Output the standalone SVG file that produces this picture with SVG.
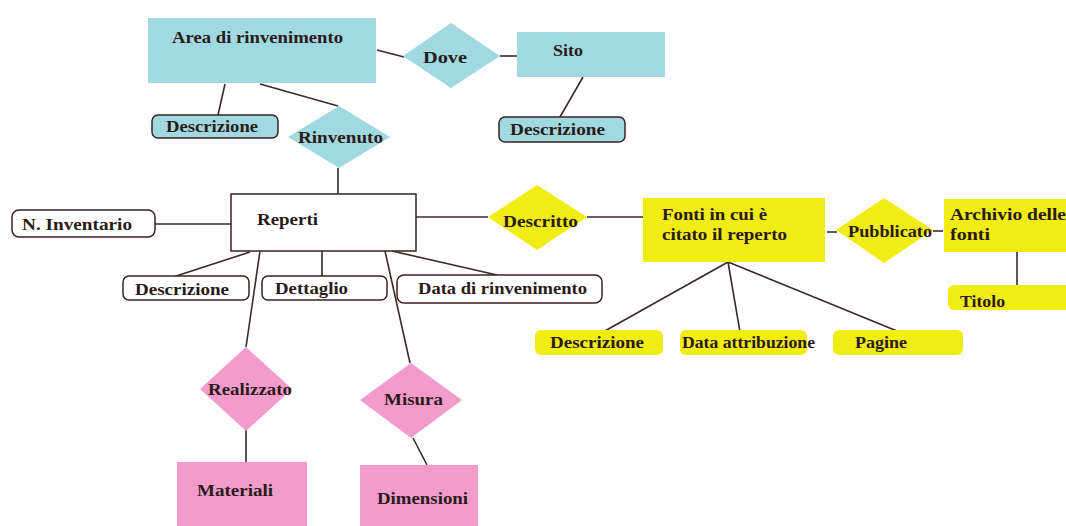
<svg xmlns="http://www.w3.org/2000/svg" width="1066" height="526" viewBox="0 0 1066 526">
<style>
.blue{fill:#a0d9e0}
.yel{fill:#f0ec14}
.pink{fill:#f39ccb}
.attr{stroke:#3a2222;stroke-width:1.5}
.wattr{fill:#fff;stroke:#3a2222;stroke-width:1.5}
.ln{stroke:#3a2a2a;stroke-width:1.6}
</style>
<rect width="1066" height="526" fill="#fff"/>
<g id="connectors" class="ln">
<line x1="377" y1="50" x2="404" y2="57"/>
<line x1="500" y1="56" x2="517" y2="56"/>
<line x1="583" y1="77" x2="560" y2="117"/>
<line x1="225" y1="84" x2="218" y2="115"/>
<line x1="260" y1="84" x2="338" y2="106"/>
<line x1="338" y1="168" x2="338" y2="194"/>
<line x1="155" y1="224" x2="231" y2="224"/>
<line x1="250" y1="252" x2="173" y2="277"/>
<line x1="322" y1="251" x2="322" y2="276"/>
<line x1="392" y1="251" x2="497" y2="275"/>
<line x1="260" y1="251" x2="246" y2="347"/>
<line x1="246" y1="430" x2="246" y2="462"/>
<line x1="385" y1="251" x2="410" y2="363"/>
<line x1="413" y1="438" x2="427" y2="465"/>
<line x1="416" y1="217" x2="488" y2="217"/>
<line x1="587" y1="217" x2="643" y2="217"/>
<line x1="827" y1="232" x2="837" y2="232"/>
<line x1="933" y1="231" x2="943" y2="231"/>
<line x1="1017" y1="252" x2="1017" y2="286"/>
<line x1="728" y1="262" x2="603" y2="332"/>
<line x1="728" y1="262" x2="740" y2="332"/>
<line x1="728" y1="262" x2="897" y2="331"/>
</g>
<g id="area"><rect class="blue" x="148" y="18" width="228" height="65"/><text font-family="Liberation Serif" font-weight="bold" font-size="17" fill="#2a1a1a" x="172" y="43" textLength="171" lengthAdjust="spacingAndGlyphs">Area di rinvenimento</text></g>
<g id="dove"><polygon class="blue" points="451,23 500,56 451,88 403,56"/><text font-family="Liberation Serif" font-weight="bold" font-size="17" fill="#2a1a1a" x="423" y="63" textLength="44" lengthAdjust="spacingAndGlyphs">Dove</text></g>
<g id="sito"><rect class="blue" x="517" y="32" width="148" height="45"/><text font-family="Liberation Serif" font-weight="bold" font-size="17" fill="#2a1a1a" x="553" y="56" textLength="30" lengthAdjust="spacingAndGlyphs">Sito</text></g>
<g id="descr-area"><rect class="blue attr" x="152" y="115" width="126" height="23" rx="6"/><text font-family="Liberation Serif" font-weight="bold" font-size="17" fill="#2a1a1a" x="166" y="132" textLength="92" lengthAdjust="spacingAndGlyphs">Descrizione</text></g>
<g id="descr-sito"><rect class="blue attr" x="499" y="117" width="126" height="25" rx="6"/><text font-family="Liberation Serif" font-weight="bold" font-size="17" fill="#2a1a1a" x="510" y="135" textLength="95" lengthAdjust="spacingAndGlyphs">Descrizione</text></g>
<g id="rinvenuto"><polygon class="blue" points="339,106 390,137 339,168 288,137"/><text font-family="Liberation Serif" font-weight="bold" font-size="17" fill="#2a1a1a" x="298" y="143" textLength="85" lengthAdjust="spacingAndGlyphs">Rinvenuto</text></g>
<g id="reperti"><rect class="wattr" x="231" y="194" width="185" height="57"/><text font-family="Liberation Serif" font-weight="bold" font-size="17" fill="#2a1a1a" x="257" y="225" textLength="61" lengthAdjust="spacingAndGlyphs">Reperti</text></g>
<g id="inventario"><rect class="wattr" x="12" y="210" width="143" height="27" rx="7"/><text font-family="Liberation Serif" font-weight="bold" font-size="17" fill="#2a1a1a" x="22" y="230" textLength="110" lengthAdjust="spacingAndGlyphs">N. Inventario</text></g>
<g id="descr-reperti"><rect class="wattr" x="123" y="276" width="126" height="24" rx="6"/><text font-family="Liberation Serif" font-weight="bold" font-size="17" fill="#2a1a1a" x="135" y="295" textLength="94" lengthAdjust="spacingAndGlyphs">Descrizione</text></g>
<g id="dettaglio"><rect class="wattr" x="262" y="276" width="125" height="24" rx="6"/><text font-family="Liberation Serif" font-weight="bold" font-size="17" fill="#2a1a1a" x="275" y="294" textLength="73" lengthAdjust="spacingAndGlyphs">Dettaglio</text></g>
<g id="data-rinv"><rect class="wattr" x="397" y="275" width="205" height="28" rx="7"/><text font-family="Liberation Serif" font-weight="bold" font-size="17" fill="#2a1a1a" x="418" y="294" textLength="169" lengthAdjust="spacingAndGlyphs">Data di rinvenimento</text></g>
<g id="realizzato"><polygon class="pink" points="246,347 292,389 246,431 200,389"/><text font-family="Liberation Serif" font-weight="bold" font-size="17" fill="#2a1a1a" x="208" y="395" textLength="84" lengthAdjust="spacingAndGlyphs">Realizzato</text></g>
<g id="materiali"><rect class="pink" x="177" y="462" width="130" height="64"/><text font-family="Liberation Serif" font-weight="bold" font-size="17" fill="#2a1a1a" x="197" y="496" textLength="76" lengthAdjust="spacingAndGlyphs">Materiali</text></g>
<g id="misura"><polygon class="pink" points="411,363 462,400 411,438 360,400"/><text font-family="Liberation Serif" font-weight="bold" font-size="17" fill="#2a1a1a" x="384" y="405" textLength="59" lengthAdjust="spacingAndGlyphs">Misura</text></g>
<g id="dimensioni"><rect class="pink" x="360" y="465" width="118" height="61"/><text font-family="Liberation Serif" font-weight="bold" font-size="17" fill="#2a1a1a" x="377" y="504" textLength="91" lengthAdjust="spacingAndGlyphs">Dimensioni</text></g>
<g id="descritto"><polygon class="yel" points="537,185 587,217 537,250 488,217"/><text font-family="Liberation Serif" font-weight="bold" font-size="17" fill="#2a1a1a" x="503" y="227" textLength="75" lengthAdjust="spacingAndGlyphs">Descritto</text></g>
<g id="fonti"><rect class="yel" x="643" y="198" width="182" height="64"/><text font-family="Liberation Serif" font-weight="bold" font-size="17" fill="#2a1a1a" x="662" y="220" textLength="105" lengthAdjust="spacingAndGlyphs">Fonti in cui è</text><text font-family="Liberation Serif" font-weight="bold" font-size="17" fill="#2a1a1a" x="662" y="240" textLength="125" lengthAdjust="spacingAndGlyphs">citato il reperto</text></g>
<g id="pubblicato"><polygon class="yel" points="884,198 933,230 884,263 836,230"/><text font-family="Liberation Serif" font-weight="bold" font-size="17" fill="#2a1a1a" x="848" y="237" textLength="84" lengthAdjust="spacingAndGlyphs">Pubblicato</text></g>
<g id="archivio"><rect class="yel" x="944" y="199" width="122" height="53"/><text font-family="Liberation Serif" font-weight="bold" font-size="17" fill="#2a1a1a" x="950" y="220" textLength="116" lengthAdjust="spacingAndGlyphs">Archivio delle</text><text font-family="Liberation Serif" font-weight="bold" font-size="17" fill="#2a1a1a" x="950" y="240" textLength="40" lengthAdjust="spacingAndGlyphs">fonti</text></g>
<g id="titolo"><rect class="yel" x="948" y="285" width="130" height="25" rx="6"/><text font-family="Liberation Serif" font-weight="bold" font-size="17" fill="#2a1a1a" x="960" y="307" textLength="45" lengthAdjust="spacingAndGlyphs">Titolo</text></g>
<g id="descr-fonti"><rect class="yel" x="535" y="330" width="128" height="25" rx="6"/><text font-family="Liberation Serif" font-weight="bold" font-size="17" fill="#2a1a1a" x="550" y="348" textLength="94" lengthAdjust="spacingAndGlyphs">Descrizione</text></g>
<g id="data-attr"><rect class="yel" x="680" y="330" width="127" height="25" rx="6"/><text font-family="Liberation Serif" font-weight="bold" font-size="17" fill="#2a1a1a" x="682" y="348" textLength="133" lengthAdjust="spacingAndGlyphs">Data attribuzione</text></g>
<g id="pagine"><rect class="yel" x="833" y="330" width="130" height="25" rx="6"/><text font-family="Liberation Serif" font-weight="bold" font-size="17" fill="#2a1a1a" x="855" y="348" textLength="52" lengthAdjust="spacingAndGlyphs">Pagine</text></g>
</svg>
